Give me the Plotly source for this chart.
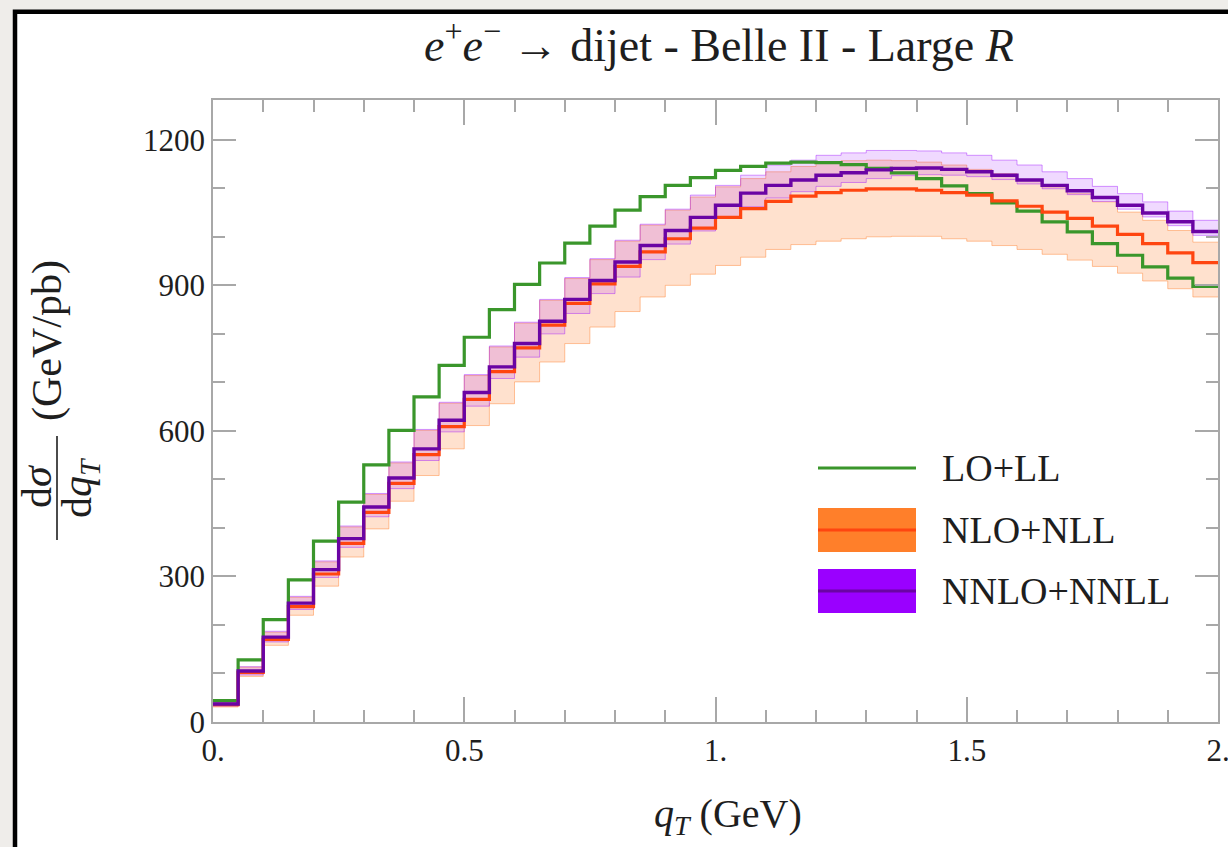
import plotly.graph_objects as go

# ---------------- data (bin contents, q_T bins of width 0.05 GeV from 0 to 2 GeV) ----------------
bin_width = 0.05
n_bins = 40
qT_edges = [round(i * bin_width, 2) for i in range(n_bins + 1)]

lo_ll = [44, 128, 211, 293, 373, 453, 530, 601, 670, 735,
         793, 850, 902, 946, 987, 1022, 1055, 1083, 1106, 1122,
         1137, 1145, 1152, 1154, 1153, 1149, 1141, 1132, 1120, 1105,
         1089, 1070, 1053, 1031, 1010, 986, 962, 938, 915, 898]

nlo_nll = [36, 102, 170, 238, 305, 368, 432, 492, 551, 609,
           665, 722, 771, 818, 863, 903, 939, 969, 996, 1018,
           1040, 1058, 1073, 1084, 1091, 1096, 1099, 1099, 1096, 1091,
           1086, 1074, 1063, 1051, 1038, 1022, 1005, 986, 967, 947]
nlo_nll_low = [31, 94, 158, 220, 280, 340, 398, 455, 508, 563,
               611, 656, 701, 742, 780, 814, 846, 876, 900, 923,
               941, 958, 974, 984, 991, 996, 1000, 1001, 1001, 996,
               991, 982, 974, 964, 952, 939, 925, 909, 893, 876]
nlo_nll_high = [40, 113, 185, 257, 330, 402, 469, 534, 601, 657,
                714, 773, 822, 869, 914, 953, 991, 1024, 1055, 1082,
                1103, 1120, 1134, 1145, 1153, 1157, 1158, 1157, 1154, 1148,
                1139, 1130, 1117, 1103, 1089, 1072, 1051, 1034, 1013, 989]

nnlo_nnll = [37, 105, 175, 245, 314, 378, 443, 503, 563, 622,
             679, 732, 780, 826, 871, 910, 948, 982, 1013, 1040,
             1065, 1090, 1106, 1117, 1127, 1132, 1138, 1141, 1142, 1139,
             1134, 1127, 1117, 1106, 1095, 1081, 1065, 1049, 1031, 1011]
nnlo_nnll_low = [33, 97, 165, 232, 298, 360, 423, 481, 539, 598,
                 651, 708, 752, 800, 842, 883, 917, 953, 985, 1012,
                 1038, 1062, 1080, 1093, 1104, 1112, 1120, 1126, 1128, 1127,
                 1124, 1118, 1109, 1099, 1087, 1073, 1057, 1041, 1023, 1003]
nnlo_nnll_high = [41, 114, 187, 259, 332, 404, 471, 536, 603, 659,
                  716, 775, 824, 871, 916, 955, 993, 1026, 1057, 1086,
                  1106, 1127, 1148, 1158, 1168, 1173, 1178, 1178, 1177, 1173,
                  1168, 1158, 1148, 1134, 1120, 1104, 1089, 1072, 1053, 1034]

x_tick_vals = [0, 0.5, 1, 1.5, 2]
x_tick_text = ["0.", "0.5", "1.", "1.5", "2."]
y_tick_vals = [0, 300, 600, 900, 1200]
y_tick_text = ["0", "300", "600", "900", "1200"]

series_names = ["LO+LL", "NLO+NLL", "NNLO+NNLL"]

# ---------------- style ----------------
FONT = "Liberation Serif"
TXT = "#1e1e1e"
GREEN = "#3a962b"
RED = "#ff4510"
PURPLE = "#6a04a4"
NLO_FILL = "rgba(255,127,42,0.23)"
NLO_EDGE = "rgba(255,127,42,0.45)"
NNLO_FILL = "rgba(153,0,255,0.15)"
NNLO_EDGE = "rgba(153,0,255,0.40)"
AXIS_GRAY = "#a8a8a8"

# plot-area pixel geometry (for converting decorative positions)
L, R, T, B = 213, 1218, 100, 722
W, H = R - L, B - T


def px(x):
    return (x - L) / W


def py(y):
    return (B - y) / H


def stepped(vals):
    return list(vals) + [vals[-1]]


fig = go.Figure()

# bands
fig.add_trace(go.Scatter(x=qT_edges, y=stepped(nlo_nll_low), mode="lines", line_shape="hv",
                         line=dict(color=NLO_EDGE, width=1), showlegend=False, hoverinfo="skip"))
fig.add_trace(go.Scatter(x=qT_edges, y=stepped(nlo_nll_high), mode="lines", line_shape="hv",
                         line=dict(color=NLO_EDGE, width=1), fill="tonexty", fillcolor=NLO_FILL,
                         showlegend=False, hoverinfo="skip"))
fig.add_trace(go.Scatter(x=qT_edges, y=stepped(nnlo_nnll_low), mode="lines", line_shape="hv",
                         line=dict(color=NNLO_EDGE, width=1), showlegend=False, hoverinfo="skip"))
fig.add_trace(go.Scatter(x=qT_edges, y=stepped(nnlo_nnll_high), mode="lines", line_shape="hv",
                         line=dict(color=NNLO_EDGE, width=1), fill="tonexty", fillcolor=NNLO_FILL,
                         showlegend=False, hoverinfo="skip"))

# central lines
fig.add_trace(go.Scatter(x=qT_edges, y=stepped(lo_ll), mode="lines", line_shape="hv",
                         line=dict(color=GREEN, width=3.2), name=series_names[0], showlegend=False))
fig.add_trace(go.Scatter(x=qT_edges, y=stepped(nlo_nll), mode="lines", line_shape="hv",
                         line=dict(color=RED, width=3.2), name=series_names[1], showlegend=False))
fig.add_trace(go.Scatter(x=qT_edges, y=stepped(nnlo_nnll), mode="lines", line_shape="hv",
                         line=dict(color=PURPLE, width=3.4), name=series_names[2], showlegend=False))

shapes = []
# page frame: white card with thick black border (right/bottom run off-page)
shapes.append(dict(type="rect", xref="paper", yref="paper", layer="below",
                   x0=px(15), x1=px(1260), y0=py(11.8), y1=py(900),
                   fillcolor="white", line=dict(color="black", width=4.5)))

# custom legend
lx0, lx1 = px(818), px(916)
shapes.append(dict(type="line", xref="paper", yref="paper", x0=lx0, x1=lx1, y0=py(468), y1=py(468),
                   line=dict(color=GREEN, width=3.2)))
shapes.append(dict(type="rect", xref="paper", yref="paper", x0=lx0, x1=lx1, y0=py(552), y1=py(508),
                   fillcolor="#ff7f2a", line=dict(width=0)))
shapes.append(dict(type="line", xref="paper", yref="paper", x0=lx0, x1=lx1, y0=py(530), y1=py(530),
                   line=dict(color=RED, width=3.2)))
shapes.append(dict(type="rect", xref="paper", yref="paper", x0=lx0, x1=lx1, y0=py(613), y1=py(569),
                   fillcolor="#9a00ff", line=dict(width=0)))
shapes.append(dict(type="line", xref="paper", yref="paper", x0=lx0, x1=lx1, y0=py(591), y1=py(591),
                   line=dict(color=PURPLE, width=3.2)))
# y-title fraction bar
shapes.append(dict(type="line", xref="paper", yref="paper", x0=px(57), x1=px(57), y0=py(436), y1=py(540),
                   line=dict(color=TXT, width=1.6)))

annotations = []
for name, yy in zip(series_names, [468, 530, 591]):
    annotations.append(dict(text=name, xref="paper", yref="paper", x=px(940), y=py(yy),
                            xanchor="left", yanchor="middle", showarrow=False,
                            font=dict(family=FONT, size=38, color=TXT)))

annotations.append(dict(text="<i>e</i><sup>+</sup><i>e</i><sup>\u2212</sup> \u2192 dijet - Belle II - Large <i>R</i>",
                        xref="paper", yref="paper", x=px(719), y=py(42), xanchor="center", yanchor="middle",
                        showarrow=False, font=dict(family=FONT, size=46, color=TXT)))
annotations.append(dict(text="<i>q</i><sub><i>T</i></sub> (GeV)", xref="paper", yref="paper",
                        x=px(728), y=py(816), xanchor="center", yanchor="middle", showarrow=False,
                        font=dict(family=FONT, size=40, color=TXT)))
annotations.append(dict(text="d<i>\u03c3</i>", xref="paper", yref="paper", x=px(37), y=py(486),
                        xanchor="center", yanchor="middle", textangle=-90, showarrow=False,
                        font=dict(family=FONT, size=42, color=TXT)))
annotations.append(dict(text="d<i>q</i><sub><i>T</i></sub>", xref="paper", yref="paper", x=px(80), y=py(488),
                        xanchor="center", yanchor="middle", textangle=-90, showarrow=False,
                        font=dict(family=FONT, size=42, color=TXT)))
annotations.append(dict(text="(GeV/pb)", xref="paper", yref="paper", x=px(47), y=py(341),
                        xanchor="center", yanchor="middle", textangle=-90, showarrow=False,
                        font=dict(family=FONT, size=42, color=TXT)))

fig.update_layout(
    width=1228, height=847,
    margin=dict(l=L, r=1228 - R, t=T, b=847 - B, autoexpand=False),
    paper_bgcolor="#efedea",
    plot_bgcolor="rgba(0,0,0,0)",
    shapes=shapes,
    annotations=annotations,
    showlegend=False,
    font=dict(family=FONT, size=30, color=TXT),
)

fig.update_xaxes(
    range=[0, 2], tickmode="array", tickvals=x_tick_vals, ticktext=x_tick_text,
    ticks="inside", ticklen=25, tickwidth=1.5, tickcolor=AXIS_GRAY,
    showline=True, linecolor=AXIS_GRAY, linewidth=1.5, mirror="allticks",
    showgrid=False, zeroline=False, ticklabelstandoff=0, ticklabeloverflow="allow",
    tickfont=dict(family=FONT, size=31, color=TXT),
    minor=dict(dtick=0.1, tick0=0, ticks="inside", ticklen=12, tickwidth=1.5, tickcolor=AXIS_GRAY, showgrid=False),
)
fig.update_yaxes(
    range=[0, 1282], tickmode="array", tickvals=y_tick_vals, ticktext=y_tick_text,
    ticks="inside", ticklen=23, tickwidth=1.5, tickcolor=AXIS_GRAY,
    showline=True, linecolor=AXIS_GRAY, linewidth=1.5, mirror="allticks",
    showgrid=False, zeroline=False, ticklabelstandoff=0, ticklabeloverflow="allow",
    tickfont=dict(family=FONT, size=31, color=TXT),
    minor=dict(dtick=100, tick0=0, ticks="inside", ticklen=12, tickwidth=1.5, tickcolor=AXIS_GRAY, showgrid=False),
)

fig.write_html("out.html", config={"displayModeBar": False},
               post_script="document.body.style.margin='0';document.body.style.overflow='hidden';")
